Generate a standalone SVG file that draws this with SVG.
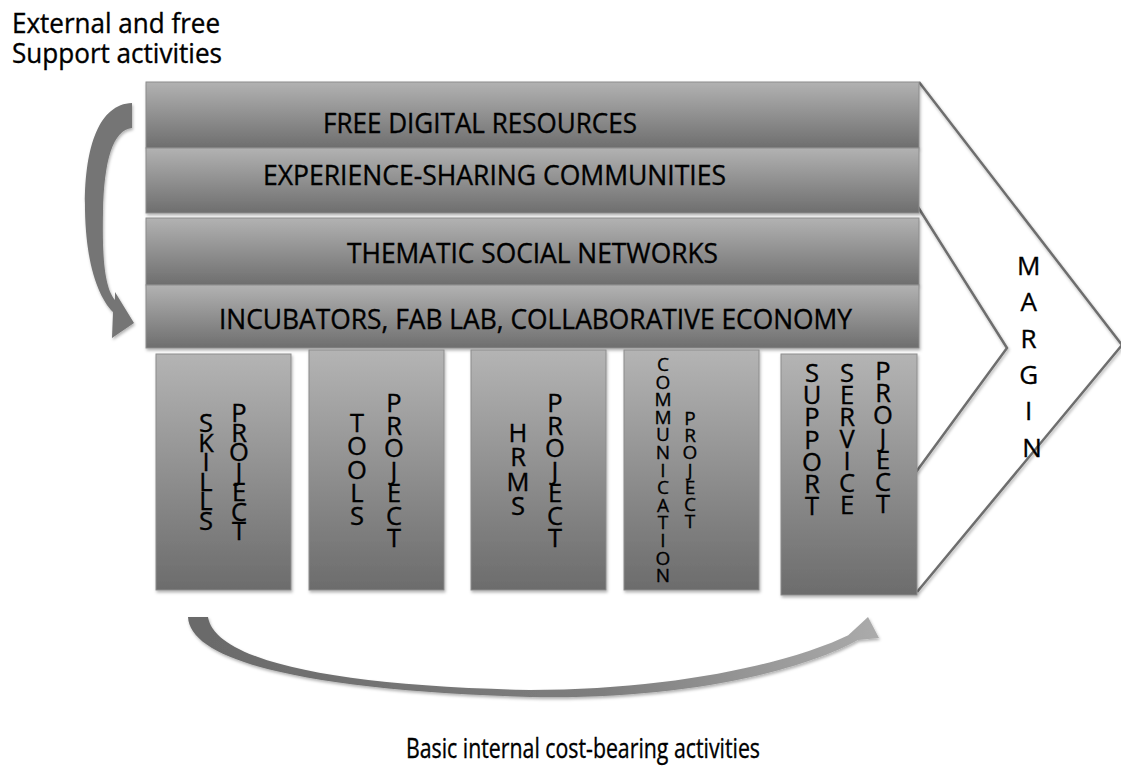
<svg xmlns="http://www.w3.org/2000/svg" width="1121" height="779" viewBox="0 0 1121 779">
<style>
  .t { font-family: "Open Sans", "Liberation Sans", sans-serif; fill: #000; stroke: #000; stroke-width: 0.35; }
  .h { font-size: 26.5px; }
  .v { font-size: 25.5px; text-anchor: middle; }
  .vs { font-size: 19px; text-anchor: middle; }
  .bar { fill: url(#gBar); stroke: #8c8c8c; stroke-width: 1; filter: url(#sh); }
  .box { fill: url(#gBox); stroke: #8c8c8c; stroke-width: 1; filter: url(#sh); }
  .chev { fill: none; stroke: #6e6e6e; stroke-width: 2.5; stroke-linejoin: miter; filter: url(#sh); }
</style>
<defs>
  <linearGradient id="gBar" x1="0" y1="0" x2="0" y2="1">
    <stop offset="0" stop-color="#b2b2b2"/>
    <stop offset="1" stop-color="#6e6e6e"/>
  </linearGradient>
  <linearGradient id="gBox" x1="0" y1="0" x2="0" y2="1">
    <stop offset="0" stop-color="#b4b4b4"/>
    <stop offset="1" stop-color="#6c6c6c"/>
  </linearGradient>
  <linearGradient id="gArr" x1="0" y1="0" x2="1" y2="0">
    <stop offset="0" stop-color="#6a6a6a"/>
    <stop offset="0.6" stop-color="#7e7e7e"/>
    <stop offset="1" stop-color="#ababab"/>
  </linearGradient>
  <filter id="sh" x="-10%" y="-10%" width="130%" height="130%">
    <feDropShadow dx="1" dy="2" stdDeviation="1.5" flood-color="#000" flood-opacity="0.3"/>
  </filter>
</defs>

<g id="labels">
  <text class="t h" x="12" y="33" textLength="208" lengthAdjust="spacingAndGlyphs">External and free</text>
  <text class="t h" x="12" y="63" textLength="210" lengthAdjust="spacingAndGlyphs">Support activities</text>
  <text class="t h" x="406" y="758" textLength="354" lengthAdjust="spacingAndGlyphs">Basic internal cost-bearing activities</text>
</g>

<g id="margin">
  <polyline class="chev" points="919,82 1122,345 917,592"/>
  <polyline class="chev" points="918,207 1007,348 916,472"/>
  <text class="t v" style="font-size:26px">
    <tspan x="1032" y="275">M</tspan>
    <tspan x="1032" y="311">A</tspan>
    <tspan x="1032" y="348">R</tspan>
    <tspan x="1032" y="384">G</tspan>
    <tspan x="1032" y="420">I</tspan>
    <tspan x="1032" y="457">N</tspan>
  </text>
</g>

<g id="bar-free">
  <rect class="bar" x="146" y="82" width="773" height="66"/>
  <text class="t h" x="323" y="133" textLength="314" lengthAdjust="spacingAndGlyphs">FREE DIGITAL RESOURCES</text>
</g>
<g id="bar-experience">
  <rect class="bar" x="146" y="148" width="773" height="65"/>
  <text class="t h" x="263" y="185" textLength="463" lengthAdjust="spacingAndGlyphs">EXPERIENCE-SHARING COMMUNITIES</text>
</g>
<g id="bar-thematic">
  <rect class="bar" x="146" y="218" width="773" height="67"/>
  <text class="t h" x="347" y="263" textLength="371" lengthAdjust="spacingAndGlyphs">THEMATIC SOCIAL NETWORKS</text>
</g>
<g id="bar-incubators">
  <rect class="bar" x="146" y="285" width="773" height="63"/>
  <text class="t h" x="219" y="329" textLength="633" lengthAdjust="spacingAndGlyphs">INCUBATORS, FAB LAB, COLLABORATIVE ECONOMY</text>
</g>

<g id="box-skills">
  <rect class="box" x="156" y="354" width="135" height="236"/>
  <text class="t v">
    <tspan x="206" y="432">S</tspan><tspan x="206" dy="19.6">K</tspan><tspan x="206" dy="19.6">I</tspan><tspan x="206" dy="19.6">L</tspan><tspan x="206" dy="19.6">L</tspan><tspan x="206" dy="19.6">S</tspan>
  </text>
  <text class="t v">
    <tspan x="239" y="422">P</tspan><tspan x="239" dy="19.7">R</tspan><tspan x="239" dy="19.7">O</tspan><tspan x="239" dy="19.7">J</tspan><tspan x="239" dy="19.7">E</tspan><tspan x="239" dy="19.7">C</tspan><tspan x="239" dy="19.7">T</tspan>
  </text>
</g>

<g id="box-tools">
  <rect class="box" x="309" y="350" width="135" height="240"/>
  <text class="t v">
    <tspan x="357" y="432">T</tspan><tspan x="357" dy="23.25">O</tspan><tspan x="357" dy="23.25">O</tspan><tspan x="357" dy="23.25">L</tspan><tspan x="357" dy="23.25">S</tspan>
  </text>
  <text class="t v">
    <tspan x="394" y="412">P</tspan><tspan x="394" dy="22.5">R</tspan><tspan x="394" dy="22.5">O</tspan><tspan x="394" dy="22.5">J</tspan><tspan x="394" dy="22.5">E</tspan><tspan x="394" dy="22.5">C</tspan><tspan x="394" dy="22.5">T</tspan>
  </text>
</g>

<g id="box-hrms">
  <rect class="box" x="471" y="350" width="135" height="240"/>
  <text class="t v">
    <tspan x="518" y="442">H</tspan><tspan x="518" dy="24.3">R</tspan><tspan x="518" dy="24.3">M</tspan><tspan x="518" dy="24.3">S</tspan>
  </text>
  <text class="t v">
    <tspan x="555" y="412">P</tspan><tspan x="555" dy="22.5">R</tspan><tspan x="555" dy="22.5">O</tspan><tspan x="555" dy="22.5">J</tspan><tspan x="555" dy="22.5">E</tspan><tspan x="555" dy="22.5">C</tspan><tspan x="555" dy="22.5">T</tspan>
  </text>
</g>

<g id="box-communication">
  <rect class="box" x="624" y="350" width="135" height="240"/>
  <text class="t vs">
    <tspan x="663" y="371">C</tspan><tspan x="663" dy="17.6">O</tspan><tspan x="663" dy="17.6">M</tspan><tspan x="663" dy="17.6">M</tspan><tspan x="663" dy="17.6">U</tspan><tspan x="663" dy="17.6">N</tspan><tspan x="663" dy="17.6">I</tspan><tspan x="663" dy="17.6">C</tspan><tspan x="663" dy="17.6">A</tspan><tspan x="663" dy="17.6">T</tspan><tspan x="663" dy="17.6">I</tspan><tspan x="663" dy="17.6">O</tspan><tspan x="663" dy="17.6">N</tspan>
  </text>
  <text class="t vs">
    <tspan x="690" y="425">P</tspan><tspan x="690" dy="17.2">R</tspan><tspan x="690" dy="17.2">O</tspan><tspan x="690" dy="17.2">J</tspan><tspan x="690" dy="17.2">E</tspan><tspan x="690" dy="17.2">C</tspan><tspan x="690" dy="17.2">T</tspan>
  </text>
</g>

<g id="box-support">
  <rect class="box" x="781" y="354" width="136" height="241"/>
  <text class="t v">
    <tspan x="812" y="382">S</tspan><tspan x="812" dy="22.2">U</tspan><tspan x="812" dy="22.2">P</tspan><tspan x="812" dy="22.2">P</tspan><tspan x="812" dy="22.2">O</tspan><tspan x="812" dy="22.2">R</tspan><tspan x="812" dy="22.2">T</tspan>
  </text>
  <text class="t v">
    <tspan x="847" y="382">S</tspan><tspan x="847" dy="22">E</tspan><tspan x="847" dy="22">R</tspan><tspan x="847" dy="22">V</tspan><tspan x="847" dy="22">I</tspan><tspan x="847" dy="22">C</tspan><tspan x="847" dy="22">E</tspan>
  </text>
  <text class="t v">
    <tspan x="883" y="380">P</tspan><tspan x="883" dy="22.2">R</tspan><tspan x="883" dy="22.2">O</tspan><tspan x="883" dy="22.2">J</tspan><tspan x="883" dy="22.2">E</tspan><tspan x="883" dy="22.2">C</tspan><tspan x="883" dy="22.2">T</tspan>
  </text>
</g>

<g id="connectors">
  <path fill="#757575" filter="url(#sh)" d="M132,103 C98,104 84,150 85,210 C86,266 99,298 113,312 L112,338 L134,323 L115,292 L115,300 C105,288 102,260 103,212 C104,160 113,130 132,128 Z"/>
  <path fill="url(#gArr)" filter="url(#sh)" d="M188,617 C190,660 300,690 530,697 C680,700 800,672 858,640 L879,638 L868,617 L842,641 L851,634 C790,664 670,690 530,690 C330,686 215,660 208,617 Z"/>
</g>
</svg>
